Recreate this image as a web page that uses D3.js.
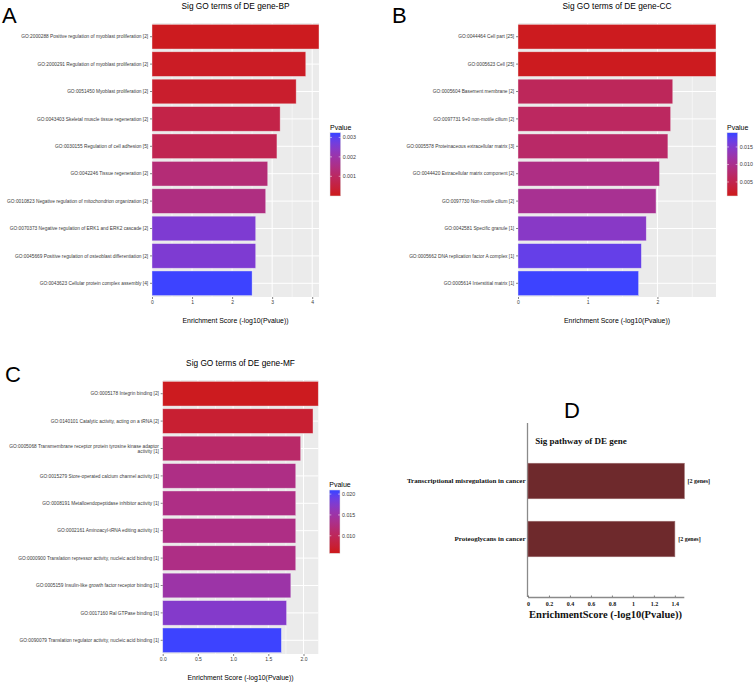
<!DOCTYPE html>
<html><head><meta charset="utf-8">
<script src="https://cdn.jsdelivr.net/npm/d3@7/dist/d3.min.js"></script>
<style>body{margin:0;background:#fff}svg{display:block}</style>
</head><body>
<svg id="chart" width="756" height="683"></svg>
<script>
// ---------------- data ----------------
const bpTerms = [
  "GO:2000288 Positive regulation of myoblast proliferation [2]",
  "GO:2000291 Regulation of myoblast proliferation [2]",
  "GO:0051450 Myoblast proliferation [2]",
  "GO:0043403 Skeletal muscle tissue regeneration [2]",
  "GO:0030155 Regulation of cell adhesion [5]",
  "GO:0042246 Tissue regeneration [2]",
  "GO:0010823 Negative regulation of mitochondrion organization [2]",
  "GO:0070373 Negative regulation of ERK1 and ERK2 cascade [2]",
  "GO:0045669 Positive regulation of osteoblast differentiation [2]",
  "GO:0043623 Cellular protein complex assembly [4]"
];
const bpScores = [4.17, 3.84, 3.60, 3.20, 3.12, 2.89, 2.84, 2.59, 2.59, 2.50];
const bpTicks = [0, 1, 2, 3, 4];
const bpLegendBreaks = [0.001, 0.002, 0.003];

const ccTerms = [
  "GO:0044464 Cell part [25]",
  "GO:0005623 Cell [25]",
  "GO:0005604 Basement membrane [2]",
  "GO:0097731 9+0 non-motile cilium [2]",
  "GO:0005578 Proteinaceous extracellular matrix [3]",
  "GO:0044420 Extracellular matrix component [2]",
  "GO:0097730 Non-motile cilium [2]",
  "GO:0042581 Specific granule [1]",
  "GO:0005662 DNA replication factor A complex [1]",
  "GO:0005614 Interstitial matrix [1]"
];
const ccScores = [2.84, 2.84, 2.22, 2.19, 2.15, 2.03, 1.98, 1.84, 1.77, 1.73];
const ccTicks = [0, 1, 2];
const ccLegendBreaks = [0.005, 0.010, 0.015];

const mfTerms = [
  "GO:0005178 Integrin binding [2]",
  "GO:0140101 Catalytic activity, acting on a tRNA [2]",
  "GO:0005068 Transmembrane receptor protein tyrosine kinase adaptor\nactivity [1]",
  "GO:0015279 Store-operated calcium channel activity [1]",
  "GO:0008191 Metalloendopeptidase inhibitor activity [1]",
  "GO:0002161 Aminoacyl-tRNA editing activity [1]",
  "GO:0000900 Translation repressor activity, nucleic acid binding [1]",
  "GO:0005159 Insulin-like growth factor receptor binding [1]",
  "GO:0017160 Ral GTPase binding [1]",
  "GO:0090079 Translation regulator activity, nucleic acid binding [1]"
];
const mfScores = [2.21, 2.135, 1.96, 1.89, 1.89, 1.89, 1.89, 1.82, 1.76, 1.686];
const mfTicks = [0, 0.5, 1.0, 1.5, 2.0];
const mfLegendBreaks = [0.010, 0.015, 0.020];

const pathTerms = ["Transcriptional misregulation in cancer", "Proteoglycans in cancer"];
const pathScores = [1.49, 1.40];
const pathGenes = ["[2 genes]", "[2 genes]"];
const pathTicks = [0, 0.2, 0.4, 0.6, 0.8, 1, 1.2, 1.4];

// ---------------- drawing ----------------
const svg = d3.select("#chart");
const SANS = "'Liberation Sans', Arial, Helvetica, sans-serif";
const SERIF = "'Liberation Serif', 'Times New Roman', serif";
const LOW = "#CC1B1F", HIGH = "#3D43FF";
const AXTXT = "#3a3a3a";

function ggPanel(o) {
  const g = svg.append("g");
  const pvals = o.scores.map(s => Math.pow(10, -s));
  const pExt = d3.extent(pvals);
  const col = d3.scaleLinear().domain(pExt).range([LOW, HIGH]).interpolate(d3.interpolateLab);
  const x = d3.scaleLinear().domain([0, d3.max(o.scores)]).range([o.left, o.right]);
  const y = d3.scaleBand().domain(o.terms).range([o.top, o.bottom]).paddingInner(0.1).paddingOuter(0.05);

  g.append("rect").attr("x", o.left).attr("y", o.top)
    .attr("width", o.right - o.left).attr("height", o.bottom - o.top).attr("fill", "#EBEBEB");
  const step = o.ticks[1] - o.ticks[0];
  const minor = [];
  for (let v = step / 2; v < x.domain()[1]; v += step) minor.push(v);
  g.selectAll(".mn").data(minor).enter().append("line")
    .attr("x1", d => x(d)).attr("x2", d => x(d)).attr("y1", o.top).attr("y2", o.bottom)
    .attr("stroke", "#fff").attr("stroke-width", 0.5);
  g.selectAll(".mj").data(o.ticks).enter().append("line")
    .attr("x1", d => x(d)).attr("x2", d => x(d)).attr("y1", o.top).attr("y2", o.bottom)
    .attr("stroke", "#fff").attr("stroke-width", 1);
  g.selectAll(".hz").data(o.terms).enter().append("line")
    .attr("x1", o.left).attr("x2", o.right)
    .attr("y1", d => y(d) + y.bandwidth() / 2).attr("y2", d => y(d) + y.bandwidth() / 2)
    .attr("stroke", "#fff").attr("stroke-width", 1);
  g.selectAll(".bar").data(o.terms).enter().append("rect")
    .attr("x", x(0)).attr("y", d => y(d))
    .attr("width", (d, i) => x(o.scores[i]) - x(0)).attr("height", y.bandwidth())
    .attr("fill", (d, i) => col(pvals[i]))
    .attr("stroke", "#f4f4f4").attr("stroke-opacity", 0.6).attr("stroke-width", 0.7);

  const ya = g.append("g").attr("transform", `translate(${o.left},0)`)
    .call(d3.axisLeft(y).tickSize(2).tickPadding(1.5).tickFormat(""));
  ya.select(".domain").remove();
  ya.selectAll(".tick line").attr("stroke", "#333").attr("stroke-width", 0.6);
  o.terms.forEach(t => {
    const lines = t.split("\n");
    const cy = y(t) + y.bandwidth() / 2;
    const lh = o.labelSize * 1.0;
    const txt = g.append("text").attr("text-anchor", "end")
      .attr("font-family", SANS).attr("font-size", o.labelSize).attr("fill", AXTXT);
    lines.forEach((ln, k) => {
      txt.append("tspan").attr("x", o.left - 3.8)
        .attr("y", cy + (k - (lines.length - 1) / 2) * lh + o.labelSize * 0.35).text(ln);
    });
  });

  const xa = g.append("g").attr("transform", `translate(0,${o.bottom})`)
    .call(d3.axisBottom(x).tickValues(o.ticks).tickSize(2).tickPadding(1.5).tickFormat(o.fmt));
  xa.select(".domain").remove();
  xa.selectAll(".tick line").attr("stroke", "#333").attr("stroke-width", 0.6);
  xa.selectAll(".tick text").attr("font-family", SANS).attr("font-size", 5).attr("fill", AXTXT);

  const cx = (o.left + o.right) / 2;
  g.append("text").attr("x", cx).attr("y", o.titleY).attr("text-anchor", "middle")
    .attr("font-family", SANS).attr("font-size", 8.3).attr("fill", "#000").text(o.title);
  g.append("text").attr("x", cx).attr("y", o.axisTitleY).attr("text-anchor", "middle")
    .attr("font-family", SANS).attr("font-size", 6.9).attr("fill", "#000")
    .text("Enrichment Score (-log10(Pvalue))");

  // legend (ggplot colourbar: limits sit half a bin inside the bar ends)
  const L = o.legend;
  g.append("text").attr("x", L.x).attr("y", L.titleY).attr("font-family", SANS)
    .attr("font-size", 7).attr("fill", "#000").text("Pvalue");
  const gid = "grad" + o.id;
  const grad = svg.append("defs").append("linearGradient").attr("id", gid)
    .attr("x1", 0).attr("y1", 1).attr("x2", 0).attr("y2", 0);
  const half = 1 / 40;
  d3.range(0, 1.0001, 0.05).forEach(t => {
    grad.append("stop").attr("offset", half + t * (1 - 2 * half))
      .attr("stop-color", col(pExt[0] + t * (pExt[1] - pExt[0])));
  });
  const hh = (L.y1 - L.y0) * half;
  const ly = d3.scaleLinear().domain(pExt).range([L.y1 - hh, L.y0 + hh]);
  g.append("rect").attr("x", L.x).attr("y", L.y0).attr("width", L.w).attr("height", L.y1 - L.y0)
    .attr("fill", `url(#${gid})`).attr("stroke", "#ddd").attr("stroke-width", 0.5);
  L.breaks.forEach(b => {
    g.append("line").attr("x1", L.x).attr("x2", L.x + 2).attr("y1", ly(b)).attr("y2", ly(b))
      .attr("stroke", "#fff").attr("stroke-width", 0.5);
    g.append("line").attr("x1", L.x + L.w - 2).attr("x2", L.x + L.w).attr("y1", ly(b)).attr("y2", ly(b))
      .attr("stroke", "#fff").attr("stroke-width", 0.5);
    g.append("text").attr("x", L.x + L.w + 2).attr("y", ly(b) + 1.8).attr("font-family", SANS)
      .attr("font-size", 5.3).attr("fill", AXTXT).text(L.fmt(b));
  });
}

ggPanel({ id: "A", terms: bpTerms, scores: bpScores, ticks: bpTicks, fmt: d3.format("d"),
  left: 152, right: 319, top: 23, bottom: 297, titleY: 9, axisTitleY: 322.5, labelSize: 4.8,
  title: "Sig GO terms of DE gene-BP",
  legend: { x: 330, w: 10.7, y0: 132.7, y1: 196, titleY: 130.3, breaks: bpLegendBreaks, fmt: d3.format(".3f") } });

ggPanel({ id: "B", terms: ccTerms, scores: ccScores, ticks: ccTicks, fmt: d3.format("d"),
  left: 518, right: 716, top: 23, bottom: 297, titleY: 9, axisTitleY: 322.5, labelSize: 4.8,
  title: "Sig GO terms of DE gene-CC",
  legend: { x: 727, w: 10.7, y0: 132.7, y1: 196, titleY: 130.3, breaks: ccLegendBreaks, fmt: d3.format(".3f") } });

ggPanel({ id: "C", terms: mfTerms, scores: mfScores, ticks: mfTicks, fmt: d3.format(".1f"),
  left: 162.7, right: 318.3, top: 380, bottom: 654, titleY: 366, axisTitleY: 680, labelSize: 4.8,
  title: "Sig GO terms of DE gene-MF",
  legend: { x: 329.3, w: 10.7, y0: 490, y1: 553.3, titleY: 487.3, breaks: mfLegendBreaks, fmt: d3.format(".3f") } });

// panel D (base-graphics style)
(function () {
  const g = svg.append("g");
  const left = 528, top = 423, bottom = 597;
  const x = d3.scaleLinear().domain([0, 1.49]).range([left, 684.3]);
  const y = d3.scaleBand().domain(pathTerms).range([top, bottom]).paddingInner(0.388).paddingOuter(0.694);
  g.append("line").attr("x1", left - 0.5).attr("x2", left - 0.5).attr("y1", top).attr("y2", bottom)
    .attr("stroke", "#8a8a8a").attr("stroke-width", 1.3);
  g.selectAll(".b").data(pathTerms).enter().append("rect")
    .attr("x", x(0)).attr("y", d => y(d)).attr("height", y.bandwidth())
    .attr("width", (d, i) => x(pathScores[i]) - x(0))
    .attr("fill", "#6E292C").attr("stroke", "#9a6a6c").attr("stroke-width", 0.6);
  g.selectAll(".lb").data(pathTerms).enter().append("text")
    .attr("x", left - 2.5).attr("y", d => y(d) + y.bandwidth() / 2 + 2.4)
    .attr("text-anchor", "end").attr("font-family", SERIF).attr("font-weight", "bold")
    .attr("font-size", 7).attr("fill", "#111").text(d => d);
  g.selectAll(".gn").data(pathTerms).enter().append("text")
    .attr("x", (d, i) => x(pathScores[i]) + 3.3).attr("y", d => y(d) + y.bandwidth() / 2 + 2)
    .attr("font-family", SERIF).attr("font-weight", "bold")
    .attr("font-size", 6).attr("fill", "#111").text((d, i) => pathGenes[i]);
  const xa = g.append("g").attr("transform", `translate(0,${bottom})`)
    .call(d3.axisBottom(x).tickValues(pathTicks).tickSize(-1.5).tickPadding(4.5).tickFormat(d3.format("~g")));
  xa.select(".domain").attr("stroke", "#8a8a8a").attr("stroke-width", 1.3).attr("d", `M${left},0.5H${x(1.49)}`);
  xa.selectAll(".tick line").attr("stroke", "#555").attr("stroke-width", 0.7);
  xa.selectAll(".tick text").attr("font-family", SERIF).attr("font-weight", "bold")
    .attr("font-size", 6).attr("fill", "#111");
  g.append("text").attr("x", 605.5).attr("y", 617.5).attr("text-anchor", "middle")
    .attr("font-family", SERIF).attr("font-weight", "bold").attr("font-size", 10.5).attr("fill", "#111")
    .text("EnrichmentScore (-log10(Pvalue))");
  g.append("text").attr("x", 581).attr("y", 444).attr("text-anchor", "middle")
    .attr("font-family", SERIF).attr("font-weight", "bold").attr("font-size", 9).attr("fill", "#111")
    .text("Sig pathway of DE gene");
})();

// panel letters
[["A", 2, 23], ["B", 392, 23], ["C", 5, 382], ["D", 564, 418]].forEach(([t, lx, ly]) => {
  svg.append("text").attr("x", lx).attr("y", ly).attr("font-family", SANS)
    .attr("font-size", 22).attr("fill", "#000").text(t);
});
</script>
</body></html>
